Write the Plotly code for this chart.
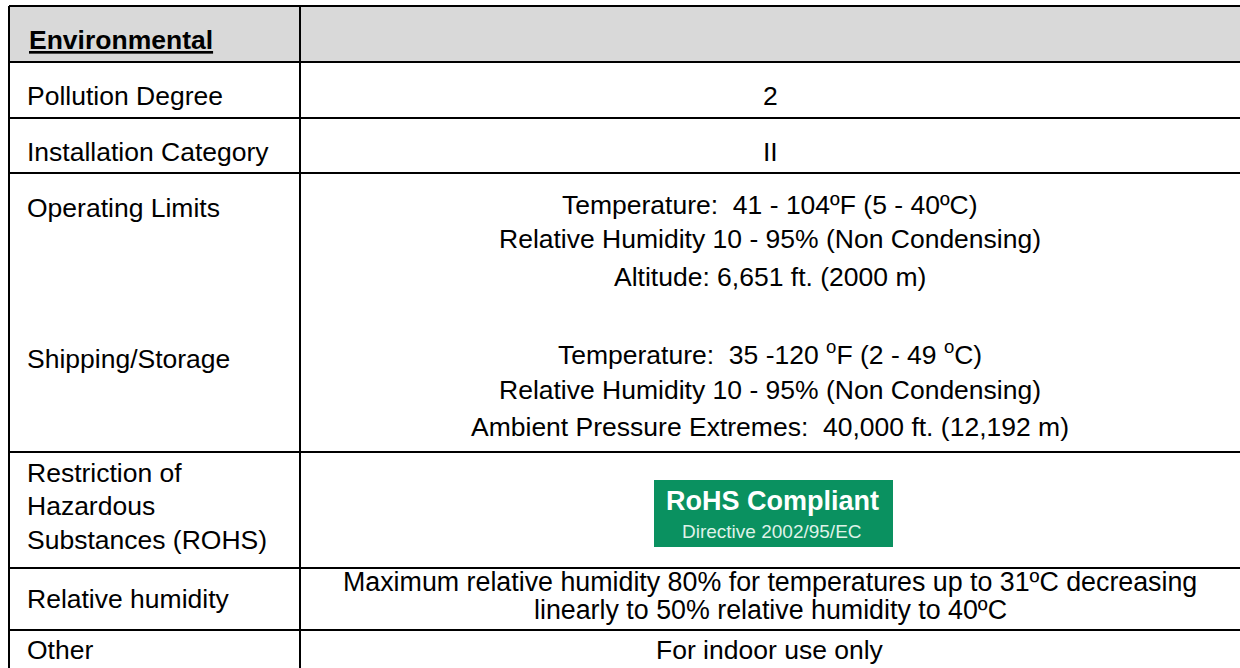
import plotly.graph_objects as go

# ---- table content ----
header_label = "Environmental"
row_labels = ["Pollution Degree", "Installation Category", "Operating Limits",
              "Shipping/Storage", "Restriction of", "Hazardous", "Substances (ROHS)",
              "Relative humidity", "Other"]
value_lines = ["2", "II",
               "Temperature:  41 - 104ºF (5 - 40ºC)",
               "Relative Humidity 10 - 95% (Non Condensing)",
               "Altitude: 6,651 ft. (2000 m)",
               "Temperature:  35 -120 <sup>o</sup>F (2 - 49 <sup>o</sup>C)",
               "Relative Humidity 10 - 95% (Non Condensing)",
               "Ambient Pressure Extremes:  40,000 ft. (12,192 m)",
               "Maximum relative humidity 80% for temperatures up to 31ºC decreasing",
               "linearly to 50% relative humidity to 40ºC",
               "For indoor use only"]
logo_title = "RoHS Compliant"
logo_sub = "Directive 2002/95/EC"

# ---- layout geometry (pixels) ----
W, H = 1240, 668
x_left, x_div, x_right = 9, 300, 1240
row_edges = [6, 62, 118, 173, 452, 568, 630]
label_y = [96, 152, 208, 359, 473, 506, 540, 599, 650]
value_y = [96, 152, 205, 239, 277, 353, 390, 427, 582, 610, 650]
x_val = (x_div + x_right) / 2

FONT = "Liberation Sans, Arial, sans-serif"
FS = 26.5

fig = go.Figure()
fig.add_trace(go.Scatter(x=[0, W], y=[0, H], mode="markers",
                         marker=dict(opacity=0), hoverinfo="skip", showlegend=False))

shapes = []
shapes.append(dict(type="rect", x0=x_left, x1=x_right, y0=row_edges[0], y1=row_edges[1],
                   fillcolor="#d9d9d9", line=dict(width=0), layer="below"))
for y in row_edges:
    shapes.append(dict(type="line", x0=x_left, x1=x_right, y0=y, y1=y,
                       line=dict(color="black", width=2)))
for x in (x_left, x_div):
    shapes.append(dict(type="line", x0=x, x1=x, y0=row_edges[0], y1=H,
                       line=dict(color="black", width=2)))
shapes.append(dict(type="rect", x0=654, x1=893, y0=480, y1=547,
                   fillcolor="#0a9160", line=dict(width=0)))

ann = []
ann.append(dict(x=27, y=40, text="<b>" + header_label + "</b>", showarrow=False,
                xanchor="left", yanchor="middle",
                font=dict(family=FONT, size=FS, color="black", lineposition="under")))
for t, y in zip(row_labels, label_y):
    ann.append(dict(x=25, y=y, text=t, showarrow=False, xanchor="left", yanchor="middle",
                    font=dict(family=FONT, size=FS, color="black")))
for i, (t, y) in enumerate(zip(value_lines, value_y)):
    fs = 26.8 if i in (8, 9) else FS
    ann.append(dict(x=x_val, y=y, text=t, showarrow=False, xanchor="center", yanchor="middle",
                    font=dict(family=FONT, size=fs, color="black")))
ann.append(dict(x=772, y=501, text="<b>" + logo_title + "</b>", showarrow=False,
                xanchor="center", yanchor="middle",
                font=dict(family=FONT, size=27, color="white")))
ann.append(dict(x=772, y=531, text=logo_sub, showarrow=False,
                xanchor="center", yanchor="middle",
                font=dict(family=FONT, size=19, color="#dff2e8")))

fig.update_layout(
    width=W, height=H, margin=dict(l=0, r=0, t=0, b=0),
    paper_bgcolor="white", plot_bgcolor="white",
    xaxis=dict(range=[0, W], visible=False, fixedrange=True),
    yaxis=dict(range=[H, 0], visible=False, fixedrange=True),
    shapes=shapes, annotations=ann, showlegend=False,
)
fig.write_html("out.html", config={"displayModeBar": False},
               post_script="document.body.style.margin='0';document.body.style.overflow='hidden';")
